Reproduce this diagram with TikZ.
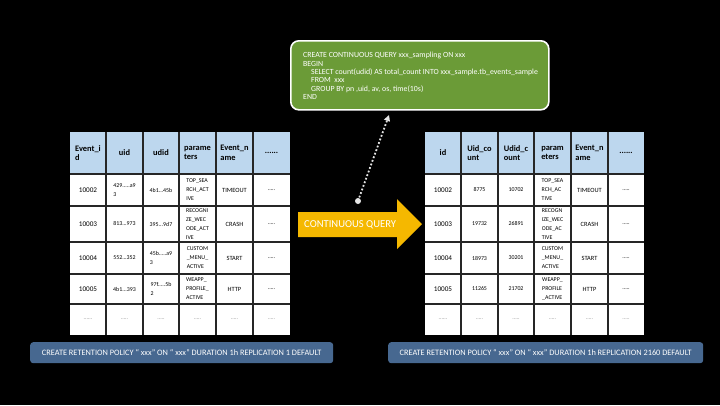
\documentclass[tikz,border=0pt]{standalone}
\usepackage{fontspec}
\setmainfont{Carlito}
\usetikzlibrary{arrows.meta}
\definecolor{hdrblue}{HTML}{BDD7EE}
\definecolor{qgreen}{HTML}{6B9B37}
\definecolor{cqorange}{HTML}{F5B800}
\definecolor{polblue}{HTML}{476890}
\definecolor{gridc}{HTML}{262626}
\tikzset{
  cellbox/.style={draw=gridc, line width=1.6pt},
  hdrtxt/.style={font=\bfseries\fontsize{8.4}{9.4}\selectfont, align=left, text=black, inner sep=0pt},
  idtxt/.style={font=\fontsize{7.2}{8}\selectfont, align=left, text=black, inner sep=0pt},
  valtxt/.style={font=\fontsize{5.9}{9}\selectfont, align=left, text=black, inner sep=0pt},
  wordtxt/.style={font=\fontsize{6.4}{8}\selectfont, align=left, text=black, inner sep=0pt},
  dottxt/.style={font=\fontsize{5.8}{7}\selectfont, text=black!45, inner sep=0pt},
  policy/.style={fill=polblue, rounded corners=3pt, text=white, font=\fontsize{8.3}{9}\selectfont},
}
\begin{document}
\begin{tikzpicture}[x=1pt,y=-1pt]
\fill[black] (0,0) rectangle (720,405);
\useasboundingbox (0,0) rectangle (720,405);

% ---------- left table ----------
\fill[hdrblue] (70,132) rectangle (290,174);
\fill[white] (70,174) rectangle (290,335);
\foreach \x in {106,143,179,216,253} \draw[cellbox] (\x,132) -- (\x,335);
\foreach \y in {174,206,242,274,304} \draw[cellbox] (70,\y) -- (290,\y);
% header
\node[hdrtxt] (lh1) at (88,153) {Event\_i\\d};
\node[hdrtxt] (lh2) at (124.5,153) {uid};
\node[hdrtxt] (lh3) at (161,153) {udid};
\node[hdrtxt] (lh4) at (197.5,153) {parame\\ters};
\node[hdrtxt] (lh5) at (234.5,153) {Event\_n\\ame};
\node[hdrtxt] (lh6) at (271.5,153) {......};
% row 1
\node[idtxt] (l11) at (88,190) {10002};
\node[valtxt] (l12) at (124.5,190) {429.....a9\\3};
\node[valtxt] (l13) at (161,190) {4b1...45b};
\node[valtxt] (l14) at (197.5,190) {TOP\_SEA\\RCH\_ACT\\IVE};
\node[wordtxt] (l15) at (234.5,190) {TIMEOUT};
\node[valtxt] (l16) at (271.5,190) {.....};
% row 2
\node[idtxt] (l21) at (88,224) {10003};
\node[valtxt] (l22) at (124.5,224) {813...973};
\node[valtxt] (l23) at (161,224) {395...9d7};
\node[valtxt] (l24) at (197.5,224) {RECOGNI\\ZE\_WEC\\ODE\_ACT\\IVE};
\node[wordtxt] (l25) at (234.5,224) {CRASH};
\node[valtxt] (l26) at (271.5,224) {.....};
% row 3
\node[idtxt] (l31) at (88,258) {10004};
\node[valtxt] (l32) at (124.5,258) {552...352};
\node[valtxt] (l33) at (161,258) {45b.....a9\\3};
\node[valtxt] (l34) at (197.5,258) {CUSTOM\\\_MENU\_\\ACTIVE};
\node[wordtxt] (l35) at (234.5,258) {START};
\node[valtxt] (l36) at (271.5,258) {.....};
% row 4
\node[idtxt] (l41) at (88,289) {10005};
\node[valtxt] (l42) at (124.5,289) {4b1...393};
\node[valtxt] (l43) at (161,289) {97f.....5b\\2};
\node[valtxt] (l44) at (197.5,289) {WEAPP\_\\PROFILE\_\\ACTIVE};
\node[wordtxt] (l45) at (234.5,289) {HTTP};
\node[valtxt] (l46) at (271.5,289) {.....};
% row 5
\node[dottxt] (l51) at (88,319.5) {......};
\node[dottxt] (l52) at (124.5,319.5) {.....};
\node[dottxt] (l53) at (161,319.5) {.....};
\node[dottxt] (l54) at (197.5,319.5) {.....};
\node[dottxt] (l55) at (234.5,319.5) {.....};
\node[dottxt] (l56) at (271.5,319.5) {.....};

% ---------- right table ----------
\fill[hdrblue] (425,132) rectangle (644,174);
\fill[white] (425,174) rectangle (644,335);
\foreach \x in {461,498,534,571,608} \draw[cellbox] (\x,132) -- (\x,335);
\foreach \y in {174,206,242,274,304} \draw[cellbox] (425,\y) -- (644,\y);
\node[hdrtxt] (rh1) at (443,153) {id};
\node[hdrtxt] (rh2) at (479.5,153) {Uid\_co\\unt};
\node[hdrtxt] (rh3) at (516,153) {Udid\_c\\ount};
\node[hdrtxt] (rh4) at (552.5,153) {param\\eters};
\node[hdrtxt] (rh5) at (589.5,153) {Event\_n\\ame};
\node[hdrtxt] (rh6) at (626,153) {......};
\node[idtxt] (r11) at (443,190) {10002};
\node[valtxt] (r12) at (479.5,190) {8775};
\node[valtxt] (r13) at (516,190) {10702};
\node[valtxt] (r14) at (552.5,190) {TOP\_SEA\\RCH\_AC\\TIVE};
\node[wordtxt] (r15) at (589.5,190) {TIMEOUT};
\node[valtxt] (r16) at (626,190) {.....};
\node[idtxt] (r21) at (443,224) {10003};
\node[valtxt] (r22) at (479.5,224) {19732};
\node[valtxt] (r23) at (516,224) {26891};
\node[valtxt] (r24) at (552.5,224) {RECOGN\\IZE\_WEC\\ODE\_AC\\TIVE};
\node[wordtxt] (r25) at (589.5,224) {CRASH};
\node[valtxt] (r26) at (626,224) {.....};
\node[idtxt] (r31) at (443,258) {10004};
\node[valtxt] (r32) at (479.5,258) {18973};
\node[valtxt] (r33) at (516,258) {30201};
\node[valtxt] (r34) at (552.5,258) {CUSTOM\\\_MENU\_\\ACTIVE};
\node[wordtxt] (r35) at (589.5,258) {START};
\node[valtxt] (r36) at (626,258) {.....};
\node[idtxt] (r41) at (443,289) {10005};
\node[valtxt] (r42) at (479.5,289) {11265};
\node[valtxt] (r43) at (516,289) {21702};
\node[valtxt] (r44) at (552.5,289) {WEAPP\_\\PROFILE\\\_ACTIVE};
\node[wordtxt] (r45) at (589.5,289) {HTTP};
\node[valtxt] (r46) at (626,289) {.....};
\node[dottxt] (r51) at (443,319.5) {......};
\node[dottxt] (r52) at (479.5,319.5) {.....};
\node[dottxt] (r53) at (516,319.5) {.....};
\node[dottxt] (r54) at (552.5,319.5) {.....};
\node[dottxt] (r55) at (589.5,319.5) {.....};
\node[dottxt] (r56) at (626,319.5) {.....};

% ---------- continuous query arrow ----------
\fill[cqorange] (298,212) -- (397,212) -- (397,199) -- (422,224) -- (397,249) -- (397,237) -- (298,237) -- cycle;
\node[text=white, font=\fontsize{10.6}{11}\selectfont, anchor=west, inner sep=0pt] (cq) at (304,224.5) {CONTINUOUS QUERY};

% ---------- query box ----------
\node[draw=white, line width=1.6pt, fill=qgreen, rounded corners=8pt, minimum width=258pt, minimum height=69pt, anchor=north west, inner sep=0pt] (qbox) at (290,40) {};
\node[anchor=north west, text=white, align=left, inner sep=0pt, font=\fontsize{7.85}{8.35}\selectfont] (qtxt) at (303,52) {CREATE CONTINUOUS QUERY xxx\_sampling ON xxx\\BEGIN\\\hspace*{8pt}SELECT count(udid) AS total\_count INTO xxx\_sample.tb\_events\_sample\\\hspace*{8pt}FROM\ \ xxx\\\hspace*{8pt}GROUP BY pn ,uid, av, os, time(10s)\\END};

% ---------- dotted connector ----------
\coordinate (dstart) at (358,201);
\coordinate (dend) at (389,115);
\fill[white!90!black] (dstart) circle (3pt);
\draw[white!90!black, line width=1.8pt, dotted, -{Triangle[length=6pt,width=6pt]}] (dstart) -- (dend);

% ---------- retention policies ----------
\node[policy, minimum width=303pt, minimum height=21pt, anchor=north west, inner sep=0pt] (pol1) at (30,342) {CREATE RETENTION POLICY “\ xxx” ON “\ xxx” DURATION 1h REPLICATION 1 DEFAULT};
\node[policy, minimum width=315pt, minimum height=21pt, anchor=north west, inner sep=0pt] (pol2) at (388,342) {CREATE RETENTION POLICY “\ xxx” ON “\ xxx” DURATION 1h REPLICATION 2160 DEFAULT};
\end{tikzpicture}
\end{document}
